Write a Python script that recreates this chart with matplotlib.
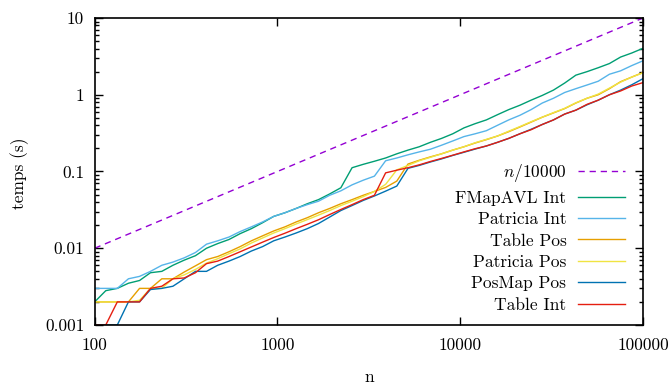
import matplotlib
matplotlib.use("Agg")
import matplotlib.pyplot as plt
from matplotlib.ticker import FixedLocator, FixedFormatter, NullLocator, LogLocator

plt.rcParams['font.family'] = 'cmr10'
plt.rcParams['mathtext.fontset'] = 'cm'
plt.rcParams['axes.formatter.use_mathtext'] = True

# taille n (log-spaced samples)
n = [100, 115, 133, 153, 176, 202, 233, 268, 309, 356,
     409, 471, 543, 625, 720, 829, 954, 1099, 1265, 1456,
     1677, 1931, 2223, 2560, 2947, 3393, 3907, 4498, 5179, 5964,
     6866, 7906, 9103, 10481, 12068, 13895, 15999, 18421, 21210, 24421,
     28118, 32375, 37276, 42919, 49417, 56899, 65513, 75431, 86851, 100000]

# reference line n/10000
ref_n = [100, 100000]
ref_t = [0.01, 10]

fmapavl_int = [0.002, 0.0028, 0.003, 0.0035, 0.0038, 0.0048, 0.005, 0.006, 0.007, 0.008,
               0.01, 0.0115, 0.013, 0.0155, 0.018, 0.0215, 0.026, 0.029, 0.033, 0.038,
               0.043, 0.051, 0.0614, 0.112, 0.124, 0.136, 0.15, 0.17, 0.19, 0.21,
               0.24, 0.27, 0.31, 0.37, 0.42, 0.47, 0.55, 0.64, 0.73, 0.85,
               0.98, 1.15, 1.42, 1.8, 2.0, 2.25, 2.55, 3.1, 3.5, 4.03]

patricia_int = [0.003, 0.003, 0.003, 0.004, 0.0043, 0.005, 0.006, 0.0066, 0.0075, 0.0088,
                0.0113, 0.0125, 0.014, 0.0165, 0.019, 0.022, 0.026, 0.029, 0.033, 0.037,
                0.041, 0.049, 0.056, 0.067, 0.077, 0.087, 0.138, 0.15, 0.165, 0.18,
                0.195, 0.22, 0.25, 0.285, 0.31, 0.34, 0.40, 0.47, 0.54, 0.64,
                0.78, 0.9, 1.07, 1.2, 1.34, 1.5, 1.85, 2.05, 2.4, 2.77]

table_pos = [0.002, 0.002, 0.002, 0.002, 0.003, 0.003, 0.004, 0.004, 0.0049, 0.0059,
             0.0071, 0.0078, 0.009, 0.0105, 0.0125, 0.0145, 0.0168, 0.019, 0.022, 0.025,
             0.029, 0.033, 0.038, 0.043, 0.049, 0.055, 0.062, 0.075, 0.125, 0.14,
             0.155, 0.17, 0.19, 0.21, 0.235, 0.26, 0.29, 0.33, 0.38, 0.44,
             0.51, 0.58, 0.66, 0.78, 0.9, 1.0, 1.2, 1.48, 1.7, 1.95]

patricia_pos = [0.002, 0.002, 0.002, 0.002, 0.0021, 0.003, 0.003, 0.004, 0.0045, 0.0053,
                0.0064, 0.0073, 0.0085, 0.0098, 0.0117, 0.0136, 0.0158, 0.018, 0.0207, 0.0236,
                0.027, 0.031, 0.036, 0.041, 0.047, 0.055, 0.068, 0.105, 0.12, 0.138,
                0.153, 0.17, 0.19, 0.21, 0.237, 0.262, 0.29, 0.335, 0.385, 0.445,
                0.51, 0.585, 0.665, 0.785, 0.9, 1.02, 1.22, 1.46, 1.7, 1.93]

posmap_pos = [0.001, 0.001, 0.001, 0.002, 0.002, 0.0029, 0.003, 0.0032, 0.004, 0.005,
              0.005, 0.006, 0.0068, 0.0078, 0.0092, 0.0105, 0.0125, 0.014, 0.0158, 0.018,
              0.021, 0.0255, 0.031, 0.036, 0.042, 0.048, 0.0555, 0.0646, 0.11, 0.12,
              0.133, 0.146, 0.162, 0.178, 0.196, 0.215, 0.24, 0.27, 0.31, 0.355,
              0.41, 0.47, 0.56, 0.63, 0.74, 0.85, 1.0, 1.15, 1.35, 1.62]

table_int = [0.001, 0.001, 0.002, 0.002, 0.002, 0.003, 0.0032, 0.004, 0.0041, 0.0048,
             0.0063, 0.0068, 0.0078, 0.009, 0.0104, 0.012, 0.0138, 0.0157, 0.018, 0.0205,
             0.0235, 0.0275, 0.032, 0.037, 0.043, 0.049, 0.096, 0.104, 0.112, 0.122,
             0.135, 0.148, 0.163, 0.18, 0.198, 0.215, 0.24, 0.27, 0.31, 0.35,
             0.41, 0.47, 0.56, 0.63, 0.75, 0.85, 1.0, 1.12, 1.3, 1.44]

xticks = [100, 1000, 10000, 100000]
xlabels = ["100", "1000", "10000", "100000"]
yticks = [0.001, 0.01, 0.1, 1, 10]
ylabels = ["0.001", "0.01", "0.1", "1", "10"]

fs = 12.5
fig = plt.figure(figsize=(6.7, 3.87), dpi=100)
ax = fig.add_axes([0.1413, 0.1602, 0.8184, 0.7933])

ax.plot(ref_n, ref_t, color='#9400d3', lw=1.0, dashes=(4.5, 3.5), label=r'$n/10000$')
ax.plot(n, fmapavl_int, color='#009e73', lw=1.0, label='FMapAVL Int')
ax.plot(n, patricia_int, color='#56b4e9', lw=1.0, label='Patricia Int')
ax.plot(n, table_pos, color='#e69f00', lw=1.0, label='Table Pos')
ax.plot(n, patricia_pos, color='#f0e442', lw=1.0, label='Patricia Pos')
ax.plot(n, posmap_pos, color='#0072b2', lw=1.0, label='PosMap Pos')
ax.plot(n, table_int, color='#e51e10', lw=1.0, label='Table Int')

ax.set_xscale('log')
ax.set_yscale('log')
ax.set_xlim(100, 100000)
ax.set_ylim(0.001, 10)

ax.xaxis.set_major_locator(FixedLocator(xticks))
ax.xaxis.set_major_formatter(FixedFormatter(xlabels))
ax.xaxis.set_minor_locator(NullLocator())
ax.yaxis.set_major_locator(FixedLocator(yticks))
ax.yaxis.set_major_formatter(FixedFormatter(ylabels))
ax.yaxis.set_minor_locator(LogLocator(base=10, subs=[2, 3, 4, 5, 6, 7, 8, 9]))

ax.tick_params(which='both', direction='in', top=True, right=True, width=1.0, labelsize=fs)
ax.tick_params(which='major', length=6)
ax.tick_params(which='minor', length=3.2)
ax.tick_params(axis='x', pad=9)
ax.tick_params(axis='y', pad=7.5)
for s in ax.spines.values():
    s.set_linewidth(1.2)

ax.set_xlabel('n', fontsize=fs)
ax.set_ylabel('temps (s)', fontsize=fs)
ax.xaxis.set_label_coords(0.5, -0.145)
ax.yaxis.set_label_coords(-0.12, 0.495)

leg = ax.legend(loc='lower right', bbox_to_anchor=(0.967, 0.040), frameon=False,
                markerfirst=False, fontsize=fs, handlelength=2.7, handletextpad=0.67,
                labelspacing=0.35, borderpad=0, borderaxespad=0)
# right-align labels like gnuplot
for col in leg._legend_handle_box.get_children():
    col.align = 'right'

fig.savefig('out.png', dpi=100)
